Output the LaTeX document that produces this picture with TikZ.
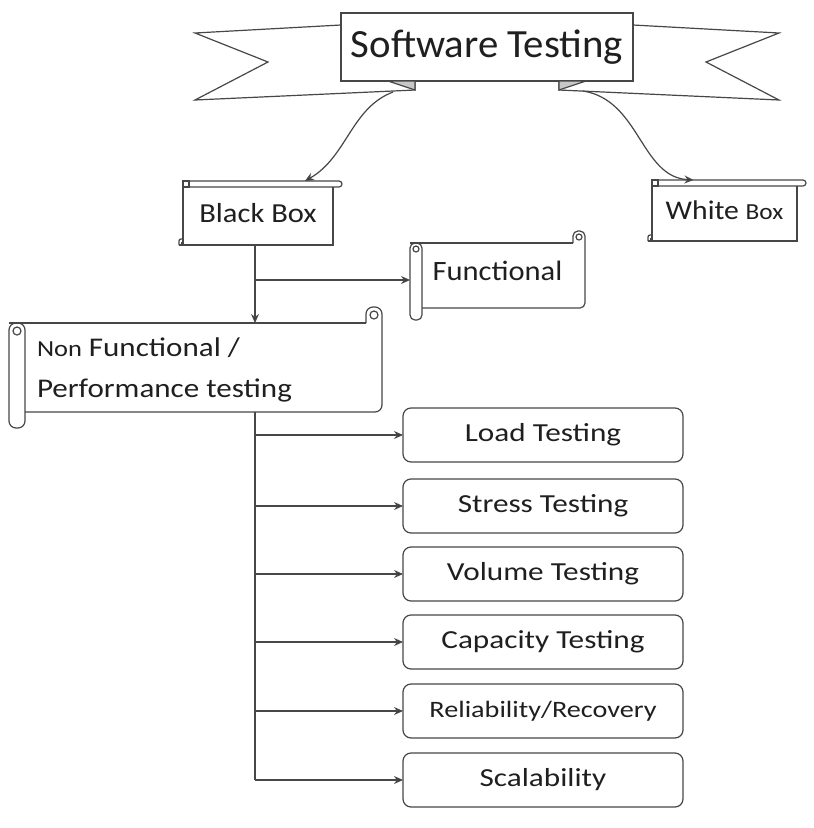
\documentclass[tikz,border=0pt]{standalone}
\usepackage{fontspec}
\setmainfont{Carlito}
\usetikzlibrary{calc,arrows.meta}
\newcommand\stx[2]{\scalebox{#1}[1]{#2}}
\newcommand\fsz[1]{\fontsize{#1}{#1}\selectfont}
% horizontal scroll drawn round a node
\newcommand\hscroll[1]{%
  \draw[ln,rounded corners=3pt] (#1.north west) -- ($(#1.north east)+(9,0)$) -- ($(#1.north east)+(9,6)$) -- ($(#1.north west)+(0,6)$);
  \draw[ln] (#1.north west) rectangle ($(#1.north west)+(6,6)$);
  \draw[ln] ($(#1.north west)+(0,6)$) -- ($(#1.south west)+(0,-6)$);
  \draw[ln] ($(#1.north east)+(0,6)$) -- (#1.south east) -- ($(#1.south west)+(-4,0)$);
  \draw[ln,rounded corners=2pt] ($(#1.south west)+(-4,0)$) -- ($(#1.south west)+(-4,-6)$) -- ($(#1.south west)+(0,-6)$);
  \draw[ln] ($(#1.south west)+(0,-6)$) -- ($(#1.south west)+(0,-2)$) -- ($(#1.south west)+(-2,-2)$);
}
% vertical scroll drawn round a node: #2 rod width, #3 corner radius
\newcommand\vscroll[3]{%
  \draw[ln] (#1.north west) -- ($(#1.north east)+(-#2,0)$);
  \draw[ln,rounded corners=#3] ($(#1.north east)+(-#2,0)$) -- ++(0,-#2) -- ++(#2,0) -- (#1.south east) -- ($(#1.south west)+(#2,0)$);
  \draw[ln] ($(#1.north east)+(-#2/2,-#2/2)$) circle[radius=#2/4];
  \draw[ln,rounded corners=#3] (#1.north west) rectangle ($(#1.south west)+(#2,#2)$);
  \draw[ln] ($(#1.north west)+(#2/2,#2/2)$) circle[radius=#2/4];
}
\begin{document}
\begin{tikzpicture}[x=1pt,y=-1pt,
  ln/.style={draw=black!72,line width=1.2pt},
  arr/.style={ln,-{Stealth[length=9pt,width=8pt,fill=black!85]}},
  shapebox/.style={inner sep=0pt,outer sep=0pt,rectangle,text=black!88},
  rbox/.style={shapebox,ln,rounded corners=8pt,minimum width=280pt,minimum height=54pt,font=\fsz{26}}
]
\useasboundingbox (0,0) rectangle (814,828);
\fill[white] (0,0) rectangle (814,828);

% banner
\draw[ln,fill=white] (341,25) -- (195,33) -- (268,62) -- (195,100) -- (415,90) -- (415,81) -- cycle;
\draw[ln,fill=white] (633,25) -- (779,33) -- (706,62) -- (779,100) -- (559,90) -- (559,81) -- cycle;
\node[shapebox,ln,fill=white,minimum width=292pt,minimum height=68pt] (title) at (487,47) {\fsz{40}\stx{1.02}{Software Testing}};
\draw[ln,fill=black!22] (388,81) -- (415,81) -- (415,90) -- cycle;
\draw[ln,fill=black!22] (586,81) -- (559,81) -- (559,90) -- cycle;

% scrolls
\node[shapebox,minimum width=150pt,minimum height=64pt] (bb) at (258,213) {\fsz{27.5}\stx{1.11}{Black Box}};
\hscroll{bb}
\node[shapebox,minimum width=145pt,minimum height=61pt] (wb) at (724.5,210.5) {\stx{1.1}{\fsz{27}White \fsz{23}Box}};
\hscroll{wb}
\node[shapebox,minimum width=175pt,minimum height=65pt] (func) at (497.5,275.5) {\raisebox{9pt}{\fsz{28}\stx{1.09}{Functional}}};
\vscroll{func}{12}{5pt}
\node[shapebox,minimum width=373pt,minimum height=89pt] (nf) at (195.5,367.5) {};
\vscroll{nf}{16}{7pt}
\node[shapebox,anchor=west,align=left,font=\fontsize{27}{41}\selectfont] (nftext) at (37,370) {\stx{1.15}{{\fsz{23}Non} Functional /}\\\stx{1.15}{Performance testing}};

% right boxes
\node[rbox] (load) at (543,435) {\stx{1.2}{Load Testing}};
\node[rbox] (stress) at (543,506) {\stx{1.2}{Stress Testing}};
\node[rbox] (volume) at (543,574) {\stx{1.2}{Volume Testing}};
\node[rbox] (capacity) at (543,642) {\stx{1.2}{Capacity Testing}};
\node[rbox,font=\fsz{23.5}] (reliab) at (543,711) {\stx{1.2}{Reliability/Recovery}};
\node[rbox] (scal) at (543,780) {\stx{1.2}{Scalability}};

% connectors
\coordinate (j1) at (255,280);
\draw[arr] ($(title.south west)+(52,11)$) .. controls +(-42,16) and +(42,-24) .. ($(bb.north)+(47,0)$);
\draw[arr] ($(title.south east)+(-50,10)$) .. controls +(57,9) and +(-53,-3) .. ($(wb.north)+(-31,0)$);
\draw[ln] ($(bb.south -| j1)$) -- (j1);
\draw[arr] (j1) -- (nf.north -| j1);
\draw[arr] (j1) -- (func.west |- j1);
\draw[ln] (nf.south -| j1) -- (j1 |- scal.west);
\foreach \b in {load,stress,volume,capacity,reliab,scal}
  \draw[arr] (j1 |- \b.west) -- (\b.west);
\end{tikzpicture}
\end{document}
